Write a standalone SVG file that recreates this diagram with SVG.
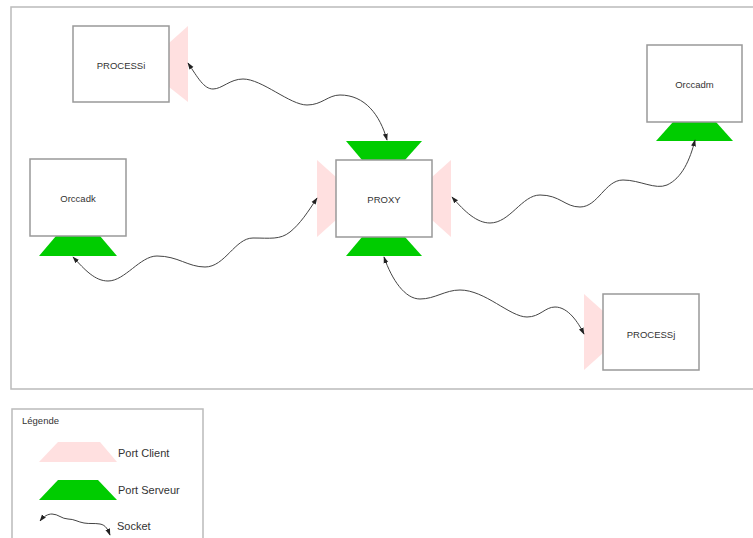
<svg xmlns="http://www.w3.org/2000/svg" width="753" height="538" viewBox="0 0 753 538">
<defs>
<marker id="arr" viewBox="0 0 10 10" refX="9" refY="5" markerWidth="7" markerHeight="7" markerUnits="userSpaceOnUse" orient="auto-start-reverse">
<path d="M0,1.5 L10,5 L0,8.5 Z" fill="#222"/>
</marker>
<style>
.frame{fill:none;stroke:#bbbbbb;stroke-width:1.5}
.box{fill:#fff;stroke:#999;stroke-width:1.5}
.client{fill:#ffe0e0;stroke:none}
.server{fill:#00cc00;stroke:none}
.sock{fill:none;stroke:#444;stroke-width:1;marker-start:url(#arr);marker-end:url(#arr)}
.lbl{font-family:"Liberation Sans",Arial,sans-serif;font-size:9.5px;fill:#333;text-anchor:middle}
.leg{font-family:"Liberation Sans",Arial,sans-serif;font-size:11px;fill:#333}
</style>
</defs>
<rect width="753" height="538" fill="#fff"/>
<path class="frame" d="M760,7 L11,7 L11,389 L760,389"/>

<g id="processi">
<polygon class="client" points="169,43 188,26 188,102 169,87"/>
<rect class="box" x="73" y="26" width="96" height="76"/>
<text class="lbl" x="121" y="68.5">PROCESSi</text>
</g>

<g id="proxy">
<polygon class="server" points="346,141 422,141 405,160 362,160"/>
<polygon class="server" points="362,237 405,237 422,256 346,256"/>
<polygon class="client" points="317,160 336,177 336,220 317,237"/>
<polygon class="client" points="451,160 432,177 432,220 451,237"/>
<rect class="box" x="336" y="160" width="96" height="77"/>
<text class="lbl" x="384" y="203">PROXY</text>
</g>

<g id="orccadk">
<polygon class="server" points="56,236 100,236 117,256 39,256"/>
<rect class="box" x="30" y="159" width="96" height="77"/>
<text class="lbl" x="78" y="202">Orccadk</text>
</g>

<g id="orccadm">
<polygon class="server" points="673,122 716,122 733,141 656,141"/>
<rect class="box" x="647" y="45" width="95" height="77"/>
<text class="lbl" x="694.5" y="88">Orccadm</text>
</g>

<g id="processj">
<polygon class="client" points="584,294 603,311 603,353 584,370"/>
<rect class="box" x="603" y="294" width="96" height="76"/>
<text class="lbl" x="651" y="337.5">PROCESSj</text>
</g>

<g id="connectors">
<path class="sock" d="M188,63 C198,78 204,89 213,89 C222,89 230,79 243,79 C262,79 290,105 307,105 C322,105 328,95 340,95 C365,95 380,115 387,140"/>
<path class="sock" d="M73,257 C85,270 95,281 108,281 C125,281 140,256 157,256 C178,256 188,267 205,267 C225,267 235,238 253,238 C270,238 280,240 290,232 C300,224 308,212 317,198"/>
<path class="sock" d="M452,197 C465,212 477,223 490,223 C510,223 522,195 540,195 C560,195 565,207 580,207 C598,207 605,180 623,180 C640,180 655,190 667,185 C682,178 690,160 695,140"/>
<path class="sock" d="M384,257 C392,280 405,299 420,299 C435,299 445,290 460,290 C485,290 510,317 527,317 C540,317 545,307 555,307 C568,307 578,322 584,334"/>
</g>

<g id="legend">
<path class="frame" d="M12,545 L12,409 L203,409 L203,545"/>
<text class="leg" x="22" y="424" style="font-size:9.5px">Légende</text>
<polygon class="client" points="58,442 100,442 117,462 39,462"/>
<text class="leg" x="118" y="457">Port Client</text>
<polygon class="server" points="58,480 98,480 117,500 39,500"/>
<text class="leg" x="118" y="494">Port Serveur</text>
<path class="sock" d="M40,521 C44,516 48,514 52,514 C58,514 62,519 68,519 C74,519 78,522 84,523 C90,524 94,523 100,524 C106,525 108,530 110,535"/>
<text class="leg" x="117" y="530">Socket</text>
</g>
</svg>
